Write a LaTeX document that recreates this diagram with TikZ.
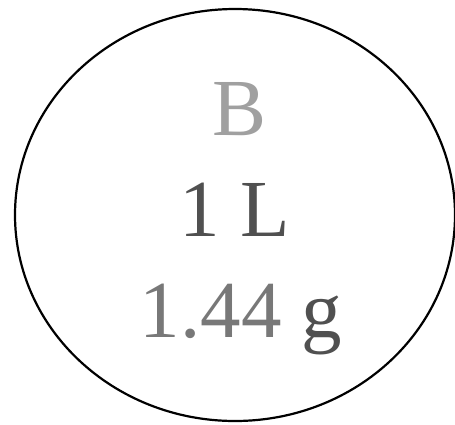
\documentclass[tikz,border=0pt]{standalone}
\usepackage{fontspec}
\setmainfont{Liberation Serif}
\definecolor{lightg}{HTML}{A0A0A0}
\definecolor{darkg}{HTML}{505050}
\definecolor{midg}{HTML}{787878}
\begin{document}
\begin{tikzpicture}[x=1pt,y=-1pt,
  lbl/.style={font=\fontsize{81}{90}\selectfont, inner sep=0pt, anchor=base}]
\useasboundingbox (0,0) rectangle (455,424);
\draw[line width=2.2pt] (235,215) ellipse [x radius=220, y radius=206];
\node[lbl, text=lightg] (b) at (240,135) {B};
\node[lbl, text=darkg] (l) at (235,236) {1 L};
\node[lbl] (g) at (241,337) {\textcolor{midg}{1.44} \textcolor{darkg}{g}};
\end{tikzpicture}
\end{document}
